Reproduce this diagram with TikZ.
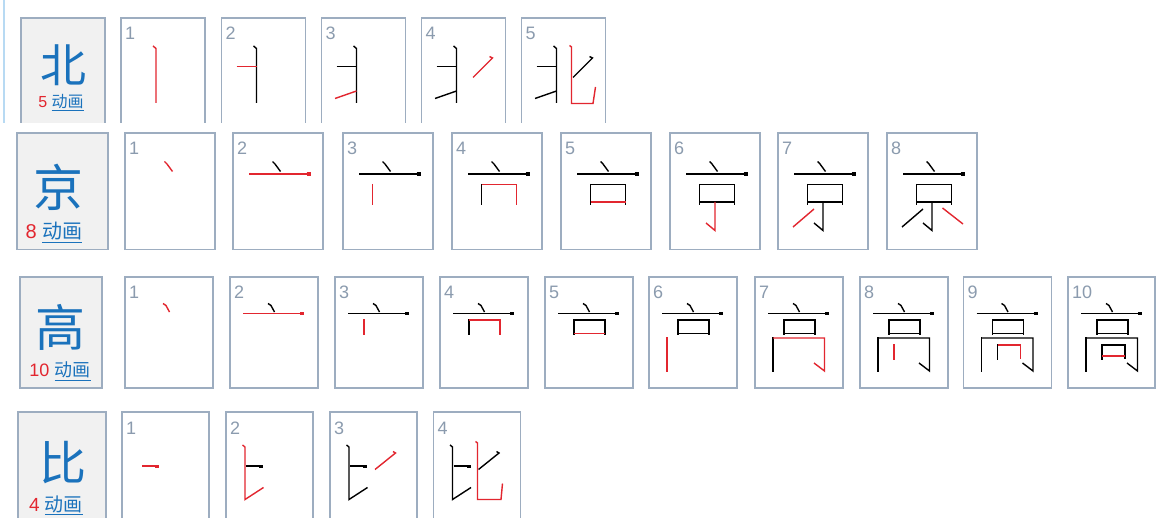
\documentclass[tikz,border=0pt]{standalone}
\usepackage{fontspec}
\setmainfont{Liberation Sans}
\newfontfamily\cjk{Noto Sans CJK SC}
\definecolor{boxline}{HTML}{9DADC0}
\definecolor{hdrfill}{HTML}{F1F1F1}
\definecolor{hanblue}{HTML}{1A72BC}
\definecolor{strokered}{HTML}{E2262F}
\definecolor{numgray}{HTML}{8B9BAE}
\definecolor{edgeblue}{HTML}{B8DAF3}
\tikzset{
  cell/.style={draw=boxline, line width=1.2pt, fill=white, anchor=north west, inner sep=0pt, outer sep=0pt},
  hdr/.style={cell, fill=hdrfill},
  num/.style={anchor=base west, text=numgray, inner sep=0pt, font=\fontsize{18}{18}\selectfont},
  big/.style={text=hanblue, inner sep=0pt},
  cnt/.style={anchor=base, inner sep=0pt},
  blk/.style={line width=1.4pt, black},
  rd/.style={line width=1.4pt, strokered},
}
\newcommand\stk[3][]{\ifnum#2<\cur\relax\draw[blk,#1] #3;\else\ifnum#2=\cur\relax\draw[rd,#1] #3;\fi\fi}
% #1 name, #2 x, #3 y, #4 w, #5 h, #6 count, #7 character
\newcommand\mkcell[7]{%
  \node[cell, minimum width=#4pt, minimum height=#5pt] (#1) at (#2,#3) {};
  \node[num] (#1n) at (#2+4,#3+22) {#6};
  \begin{scope}[shift={(#2,#3)}]\def\cur{#6}#7\end{scope}}
\newcommand\charBei{%
  \stk{1}{(32,28)--(35,30.5)--(35,85)}
  \stk{2}{(15,48.5)--(35,48.5)}
  \stk{3}{(13.5,80.5)--(35,73)}
  \stk{4}{(51.5,59.5)--(71,40)--(68,38.5)}
  \stk{5}{(48,27.5)--(50,29)--(50,85.5)--(71.5,85.5)--(74,69)}}
\newcommand\charJing{%
  \stk{1}{(39.5,28.5)--(42,31)--(47.5,38.5)}
  \stk{2}{(16,41)--(77.5,41)}
  \stk[line width=3.2pt]{2}{(73.5,41)--(77.5,41)}
  \stk{3}{(29.5,51)--(29.5,72.5)}
  \stk{4}{(29.5,51.5)--(64.5,51.5)--(64.5,72.5)}
  \stk{5}{(29.5,69)--(64.5,69)}
  \stk{6}{(45,69)--(45,97.5)--(36,90)}
  \stk{7}{(36,76)--(15,94)}
  \stk{8}{(55.5,75)--(76,91)}}
\newcommand\charGao{%
  \stk{1}{(38,26.5)--(41,28.5)--(44.5,35)}
  \stk{2}{(13,36.5)--(74,36.5)}
  \stk[line width=3.2pt]{2}{(70,36.5)--(74,36.5)}
  \stk{3}{(29,42.5)--(29,58.5)}
  \stk{4}{(29,43)--(60,43)--(60,58.5)}
  \stk{5}{(29,56.5)--(60,56.5)}
  \stk{6}{(18,60.5)--(18,94.5)}
  \stk{7}{(18,61)--(69.5,61)--(69.5,94)--(59,86)}
  \stk{8}{(34,67.5)--(34,83.5)}
  \stk{9}{(34,68)--(57,68)--(57,82)}
  \stk{10}{(34,79)--(57,79)}}
\newcommand\charBi{%
  \stk{1}{(20,54)--(37,54)}
  \stk[line width=3pt]{1}{(33,54)--(37,54)}
  \stk{2}{(16.5,33)--(19,35)--(19,87.5)--(37.5,75.5)}
  \stk{3}{(45,57.5)--(65.5,41)--(63,39.5)}
  \stk{4}{(42,29.5)--(44,31)--(44,87.5)--(67.5,87.5)--(69,71.5)}}
\begin{document}
\begin{tikzpicture}[x=1pt,y=-1pt]
\useasboundingbox (0,0) rectangle (1156,518);
\fill[white] (0,0) rectangle (1156,518);
% row 1
\begin{scope}
\clip (0,0) rectangle (1156,122.5);
\draw[edgeblue, line width=2pt] (4,0) -- (4,123);
\node[hdr, minimum width=84pt, minimum height=120pt] (h1) at (21,18) {};
\node[big, font=\cjk\fontsize{46}{46}\selectfont] (h1c) at (63,65) {北};
\node[cnt, font=\fontsize{16}{16}\selectfont] (h1t) at (61,108) {\textcolor{strokered}{5} {\color{hanblue}\underline{\cjk 动画}}};
\mkcell{a1}{121}{18}{84}{120}{1}{\charBei}
\mkcell{a2}{221.5}{18}{84}{120}{2}{\charBei}
\mkcell{a3}{321.5}{18}{84}{120}{3}{\charBei}
\mkcell{a4}{421.5}{18}{84}{120}{4}{\charBei}
\mkcell{a5}{521.5}{18}{84}{120}{5}{\charBei}
\end{scope}
% row 2
\node[hdr, minimum width=91pt, minimum height=116.5pt] (h2) at (17,133) {};
\node[big, font=\cjk\fontsize{50}{50}\selectfont] (h2c) at (58.5,187.5) {京};
\node[cnt, font=\fontsize{20}{20}\selectfont] (h2t) at (54,239) {\textcolor{strokered}{8} {\color{hanblue}\underline{\cjk 动画}}};
\mkcell{b1}{125}{133}{90}{116.5}{1}{\charJing}
\mkcell{b2}{233}{133}{90}{116.5}{2}{\charJing}
\mkcell{b3}{343}{133}{90}{116.5}{3}{\charJing}
\mkcell{b4}{452}{133}{90}{116.5}{4}{\charJing}
\mkcell{b5}{561}{133}{90}{116.5}{5}{\charJing}
\mkcell{b6}{670}{133}{90}{116.5}{6}{\charJing}
\mkcell{b7}{778}{133}{90}{116.5}{7}{\charJing}
\mkcell{b8}{887}{133}{90}{116.5}{8}{\charJing}
% row 3
\node[hdr, minimum width=82pt, minimum height=111pt] (h3) at (20,277) {};
\node[big, font=\cjk\fontsize{50}{50}\selectfont] (h3c) at (60,327.5) {高};
\node[cnt, font=\fontsize{18}{18}\selectfont] (h3t) at (60,377) {\textcolor{strokered}{10} {\color{hanblue}\underline{\cjk 动画}}};
\mkcell{c1}{125}{277}{88}{111}{1}{\charGao}
\mkcell{c2}{230}{277}{88}{111}{2}{\charGao}
\mkcell{c3}{335}{277}{88}{111}{3}{\charGao}
\mkcell{c4}{440}{277}{88}{111}{4}{\charGao}
\mkcell{c5}{545}{277}{88}{111}{5}{\charGao}
\mkcell{c6}{649}{277}{88}{111}{6}{\charGao}
\mkcell{c7}{755}{277}{88}{111}{7}{\charGao}
\mkcell{c8}{860}{277}{88}{111}{8}{\charGao}
\mkcell{c9}{963.5}{277}{88}{111}{9}{\charGao}
\mkcell{c10}{1068}{277}{87}{111}{10}{\charGao}
% row 4
\begin{scope}
\clip (0,400) rectangle (1156,518);
\node[hdr, minimum width=88pt, minimum height=120pt] (h4) at (18,412) {};
\node[big, font=\cjk\fontsize{47}{47}\selectfont] (h4c) at (62.5,462.5) {比};
\node[cnt, font=\fontsize{19}{19}\selectfont] (h4t) at (56,511) {\textcolor{strokered}{4} {\color{hanblue}\underline{\cjk 动画}}};
\mkcell{d1}{122}{412}{87}{120}{1}{\charBi}
\mkcell{d2}{226}{412}{87}{120}{2}{\charBi}
\mkcell{d3}{330}{412}{87}{120}{3}{\charBi}
\mkcell{d4}{433.5}{412}{87}{120}{4}{\charBi}
\end{scope}
\end{tikzpicture}
\end{document}
